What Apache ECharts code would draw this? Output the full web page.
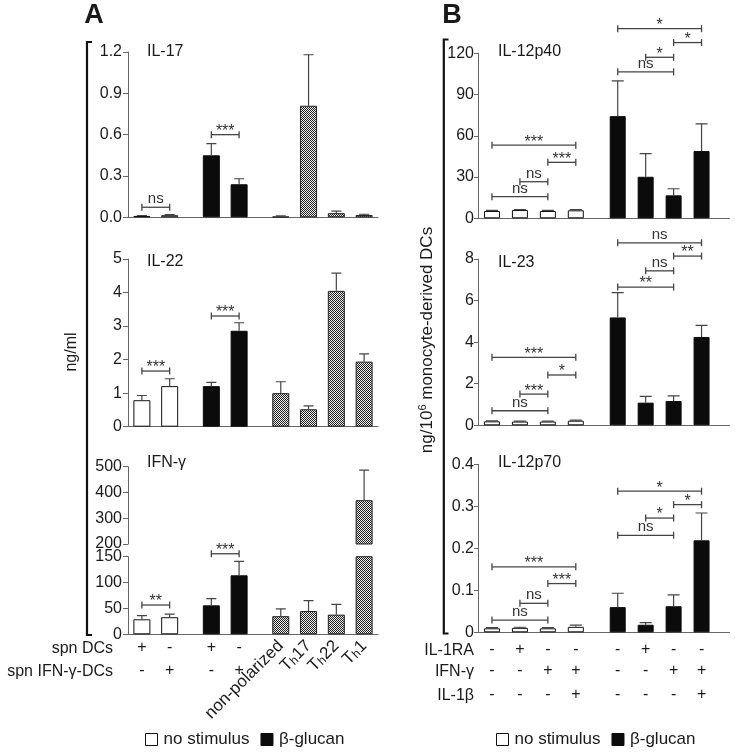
<!DOCTYPE html>
<html><head><meta charset="utf-8">
<script src="https://cdn.jsdelivr.net/npm/echarts@6/dist/echarts.min.js"></script>
<style>html,body{margin:0;padding:0;background:#fff}#c{width:735px;height:753px}</style>
</head><body><div id="c"></div>
<script>
// ---------- data ----------
const nSlots = 19;
const slotsA = [1, 3, 6, 8, 11, 13, 15, 17];
const slotsB = [1, 3, 5, 7, 10, 12, 14, 16];
const typesA = ['open', 'open', 'solid', 'solid', 'hatch', 'hatch', 'hatch', 'hatch'];
const typesB = ['open', 'open', 'open', 'open', 'solid', 'solid', 'solid', 'solid'];

// Panel A (ng/ml)
const il17 = [0.01, 0.015, 0.45, 0.24, 0.005, 0.81, 0.03, 0.017];
const il17Err = [0.013, 0.02, 0.535, 0.28, 0.01, 1.18, 0.045, 0.022];
const il22 = [0.79, 1.21, 1.21, 2.86, 1.0, 0.52, 4.05, 1.94];
const il22Err = [0.93, 1.43, 1.32, 3.1, 1.34, 0.62, 4.58, 2.17];
const ifng = [29, 33, 56, 114, 35, 45, 38, 370];
const ifngErr = [36, 39, 69, 141, 49, 65, 58, 487];

// Panel B (ng/10^6 monocyte-derived DCs)
const p40 = [5.3, 6.0, 5.3, 5.8, 74.3, 30.2, 16.7, 48.9];
const p40Err = [5.8, 6.4, 5.8, 6.3, 100, 47, 21.5, 68.7];
const il23 = [0.19, 0.18, 0.18, 0.22, 5.19, 1.09, 1.17, 4.25];
const il23Err = [0.21, 0.2, 0.2, 0.25, 6.38, 1.39, 1.42, 4.81];
const p70 = [0.0095, 0.0105, 0.0095, 0.013, 0.060, 0.018, 0.062, 0.219];
const p70Err = [0.011, 0.012, 0.011, 0.017, 0.093, 0.023, 0.089, 0.284];

// significance brackets: [fromBar, toBar, yValue, label]
const il17Sig = [[0, 1, 0.073, 'ns'], [2, 3, 0.6, '***']];
const il22Sig = [[0, 1, 1.66, '***'], [2, 3, 3.3, '***']];
const ifngSig = [[0, 1, 56.6, '**'], [2, 3, 155.7, '***']];
const p40Sig = [[0, 3, 53.2, '***'], [2, 3, 40.7, '***'], [1, 2, 26.6, 'ns'], [0, 2, 15.7, 'ns'],
                [4, 7, 137.9, '*'], [6, 7, 127.8, '*'], [5, 6, 117.1, '*'], [4, 6, 106.5, 'ns']];
const il23Sig = [[0, 3, 3.27, '***'], [2, 3, 2.42, '*'], [1, 2, 1.5, '***'], [0, 2, 0.70, 'ns'],
                 [4, 7, 8.78, 'ns'], [6, 7, 8.14, '**'], [5, 6, 7.43, 'ns'], [4, 6, 6.65, '**']];
const p70Sig = [[0, 3, 0.156, '***'], [2, 3, 0.116, '***'], [1, 2, 0.069, 'ns'], [0, 2, 0.029, 'ns'],
                [4, 7, 0.336, '*'], [6, 7, 0.304, '*'], [5, 6, 0.272, '*'], [4, 6, 0.231, 'ns']];

// x labels
const rowSpnDCs = ['+', '-', '+', '-', '', '', '', ''];
const rowSpnIFN = ['-', '+', '-', '+', '', '', '', ''];
const polarNames = ['', '', '', '', 'non-polarized', 'T{h|h}17', 'T{h|h}22', 'T{h|h}1'];
const rowIL1RA = ['-', '+', '-', '-', '-', '+', '-', '-'];
const rowIFN = ['-', '-', '+', '+', '-', '-', '+', '+'];
const rowIL1b = ['-', '-', '-', '+', '-', '-', '-', '+'];
const rowNamesA = ['spn DCs', 'spn IFN-\u03b3-DCs'];
const rowNamesB = ['IL-1RA', 'IFN-\u03b3', 'IL-1\u03b2'];
const titlesA = ['IL-17', 'IL-22', 'IFN-\u03b3'];
const titlesB = ['IL-12p40', 'IL-23', 'IL-12p70'];
const legendNames = ['no stimulus', '\u03b2-glucan'];

// ---------- style ----------
const FONT = "'Liberation Sans', Arial, Helvetica, sans-serif";
const TXT = '#1a1a1a';
const AX = '#666';
function hatchCanvas() {
  const c = document.createElement('canvas'); c.width = 4; c.height = 4;
  const g = c.getContext('2d'); g.fillStyle = '#f2f2f2'; g.fillRect(0, 0, 4, 4);
  g.fillStyle = '#1e1e1e';
  for (let y = 0; y < 4; y++) for (let x = 0; x < 4; x++) if ((x + y) % 2 === 0) g.fillRect(x, y, 1, 1);
  return c;
}
const hatchPat = { image: hatchCanvas(), repeat: 'repeat' };
const typeStyle = {
  open: { name: legendNames[0], itemStyle: { color: '#fff', borderColor: '#111', borderWidth: 1 } },
  solid: { name: legendNames[1], itemStyle: { color: '#0b0b0b', borderColor: '#0b0b0b', borderWidth: 1 } },
  hatch: { name: 'polarized', itemStyle: { color: hatchPat, borderColor: '#222', borderWidth: 1 } }
};

const cats = Array.from({ length: nSlots }, (_, i) => String(i));
function bySlot(slots, arr) { const m = {}; slots.forEach((s, i) => { m[s] = arr[i]; }); return m; }

const grids = [
  { left: 128, width: 250, top: 52, height: 165.3 },
  { left: 128, width: 250, top: 259, height: 167.7 },
  { left: 128, width: 250, top: 466.7, height: 77.3 },
  { left: 128, width: 250, top: 556.7, height: 77.6 },
  { left: 478, width: 251.5, top: 53.3, height: 165 },
  { left: 478, width: 251.5, top: 259, height: 166.3 },
  { left: 478, width: 251.5, top: 464.3, height: 168 }
];

function xAx(gridIndex, opts) {
  const o = {
    type: 'category', gridIndex, data: cats, boundaryGap: false, position: 'bottom',
    axisLine: { show: true, lineStyle: { color: AX, width: 1 } },
    axisTick: { show: false }, splitLine: { show: false },
    axisLabel: { show: false }
  };
  return Object.assign(o, opts || {});
}
function rowLabelAxis(gridIndex, slots, arr, offset, margin) {
  const m = bySlot(slots, arr);
  return xAx(gridIndex, {
    offset, axisLine: { show: offset === 0, lineStyle: { color: AX } },
    axisLabel: { show: true, interval: 0, margin, color: TXT, fontSize: 16, fontFamily: FONT,
      formatter: (v, i) => (m[i] !== undefined ? m[i] : '') }
  });
}
function yAx(gridIndex, min, max, interval, fmt, margin, tickLen) {
  return {
    type: 'value', gridIndex, min, max, interval,
    axisLine: { show: true, lineStyle: { color: AX, width: 1 } },
    axisTick: { show: true, length: tickLen, lineStyle: { color: AX } },
    splitLine: { show: false },
    axisLabel: { color: TXT, fontSize: 16, fontFamily: FONT, margin, formatter: fmt }
  };
}

const xAxis = [
  xAx(0), xAx(1), xAx(2, { axisLine: { show: false } }),
  rowLabelAxis(3, slotsA, rowSpnDCs, 0, 5),
  rowLabelAxis(3, slotsA, rowSpnIFN, 23, 5),
  (function () {
    const m = bySlot(slotsA, polarNames);
    return xAx(3, { axisLine: { show: false }, axisLabel: {
      show: true, interval: 0, rotate: 45, margin: 9, color: TXT, fontSize: 17, fontFamily: FONT,
      formatter: (v, i) => (m[i] || ''),
      rich: { h: { fontSize: 12, fontFamily: FONT, color: TXT, padding: [5, 0, 0, 0] } } } });
  })(),
  xAx(4), xAx(5),
  rowLabelAxis(6, slotsB, rowIL1RA, 0, 9),
  rowLabelAxis(6, slotsB, rowIFN, 21, 9),
  rowLabelAxis(6, slotsB, rowIL1b, 45, 9)
];
const f1 = v => v.toFixed(1);
const fInt = v => String(v);
const yAxis = [
  yAx(0, 0, 1.2, 0.3, f1, 6, 5),
  yAx(1, 0, 5, 1, fInt, 6, 5),
  yAx(2, 200, 500, 100, fInt, 6, 5),
  yAx(3, 0, 150, 50, fInt, 6, 5),
  yAx(4, 0, 120, 30, fInt, 4, 4),
  yAx(5, 0, 8, 2, fInt, 4, 4),
  yAx(6, 0, 0.4, 0.1, v => (v === 0 ? '0' : v.toFixed(1)), 4, 4)
];

const series = [];
function addPanel(xIdx, yIdx, slots, types, vals, errs, sig, barW, capW) {
  ['open', 'solid', 'hatch'].forEach(t => {
    const idx = types.map((tt, i) => (tt === t ? i : -1)).filter(i => i >= 0);
    if (!idx.length) return;
    series.push({
      type: 'bar', name: typeStyle[t].name, xAxisIndex: xIdx, yAxisIndex: yIdx,
      barWidth: barW, barGap: '-100%', clip: true, silent: true,
      itemStyle: typeStyle[t].itemStyle,
      data: idx.map(i => [slots[i], vals[i]])
    });
  });
  series.push({
    type: 'custom', xAxisIndex: xIdx, yAxisIndex: yIdx, clip: true, silent: true, z: 3,
    encode: { x: 0, y: [1, 2] },
    data: vals.map((v, i) => [slots[i], v, errs[i]]),
    renderItem: (params, api) => {
      const a = api.coord([api.value(0), api.value(1)]);
      const b = api.coord([api.value(0), api.value(2)]);
      const st = { stroke: '#444', lineWidth: 1.2 };
      return { type: 'group', children: [
        { type: 'line', shape: { x1: a[0], y1: a[1], x2: b[0], y2: b[1] }, style: st },
        { type: 'line', shape: { x1: b[0] - capW / 2, y1: b[1], x2: b[0] + capW / 2, y2: b[1] }, style: st }
      ] };
    }
  });
  if (sig && sig.length) {
    const labels = sig.map(s => s[3]);
    series.push({
      type: 'custom', xAxisIndex: xIdx, yAxisIndex: yIdx, clip: false, silent: true, z: 4,
      encode: { x: [0, 1], y: 2 },
      data: sig.map(s => [slots[s[0]], slots[s[1]], s[2]]),
      renderItem: (params, api) => {
        const a = api.coord([api.value(0), api.value(2)]);
        const b = api.coord([api.value(1), api.value(2)]);
        const lab = labels[params.dataIndex];
        const star = lab.indexOf('*') >= 0;
        const st = { stroke: '#444', lineWidth: 1.3 };
        const h = 3.5;
        return { type: 'group', children: [
          { type: 'line', shape: { x1: a[0], y1: a[1], x2: b[0], y2: b[1] }, style: st },
          { type: 'line', shape: { x1: a[0], y1: a[1] - h, x2: a[0], y2: a[1] + h }, style: st },
          { type: 'line', shape: { x1: b[0], y1: b[1] - h, x2: b[0], y2: b[1] + h }, style: st },
          { type: 'text', x: (a[0] + b[0]) / 2, y: star ? a[1] - 3 : a[1] - 8,
            style: { text: lab, fill: '#333', font: (star ? '16px ' : '15px ') + FONT,
              textAlign: 'center', textVerticalAlign: 'middle', align: 'center', verticalAlign: 'middle' } }
        ] };
      }
    });
  }
}
addPanel(0, 0, slotsA, typesA, il17, il17Err, il17Sig, 17, 10);
addPanel(1, 1, slotsA, typesA, il22, il22Err, il22Sig, 17, 10);
addPanel(2, 2, slotsA, typesA, ifng, ifngErr, null, 17, 10);
addPanel(3, 3, slotsA, typesA, ifng, ifngErr, ifngSig, 17, 10);
addPanel(6, 4, slotsB, typesB, p40, p40Err, p40Sig, 16, 12);
addPanel(7, 5, slotsB, typesB, il23, il23Err, il23Sig, 16, 12);
addPanel(8, 6, slotsB, typesB, p70, p70Err, p70Sig, 16, 12);

function txt(x, y, text, opts) {
  const o = Object.assign({ size: 16, align: 'left', v: 'middle', weight: 'normal', rot: 0 }, opts || {});
  return { type: 'text', x, y, rotation: o.rot, silent: true,
    style: { text, fill: TXT, font: o.weight + ' ' + o.size + 'px ' + FONT, rich: o.rich,
      textAlign: o.align, textVerticalAlign: o.v, align: o.align, verticalAlign: o.v } };
}
const graphic = [
  txt(94, 16, 'A', { size: 27, weight: 'bold', align: 'center' }),
  txt(452, 16, 'B', { size: 27, weight: 'bold', align: 'center' }),
  txt(147, 52, titlesA[0]), txt(147, 262, titlesA[1]), txt(147, 463, titlesA[2]),
  txt(498, 52, titlesB[0]), txt(498, 263, titlesB[1]), txt(498, 463, titlesB[2]),
  txt(113, 648.5, rowNamesA[0], { align: 'right' }),
  txt(113, 671.5, rowNamesA[1], { align: 'right' }),
  txt(474, 650.5, rowNamesB[0], { align: 'right' }),
  txt(474, 672, rowNamesB[1], { align: 'right' }),
  txt(474, 696, rowNamesB[2], { align: 'right' }),
  txt(72, 352, 'ng/ml', { align: 'center', rot: Math.PI / 2 }),
  txt(427, 340, 'ng/10{s|6} monocyte-derived DCs', { align: 'center', size: 17, rot: Math.PI / 2,
    rich: { s: { fontSize: 11, fontFamily: FONT, fill: TXT, color: TXT, padding: [0, 0, 9, 0] } } }),
  { type: 'polyline', silent: true, shape: { points: [[92, 42], [87, 42], [87, 635], [92, 635]] },
    style: { stroke: '#111', lineWidth: 2.2, fill: null } },
  { type: 'polyline', silent: true, shape: { points: [[448.5, 39.5], [443.8, 39.5], [443.8, 633.5], [448.5, 633.5]] },
    style: { stroke: '#111', lineWidth: 2.2, fill: null } }
];

const legendData = [
  { name: legendNames[0], itemStyle: { color: '#fff', borderColor: '#111', borderWidth: 1 } },
  { name: legendNames[1], itemStyle: { color: '#0b0b0b', borderColor: '#0b0b0b', borderWidth: 1 } }
];
const legendBase = { orient: 'horizontal', padding: 0, icon: 'rect', itemWidth: 12, itemHeight: 12,
  itemGap: 11, selectedMode: false, data: legendData,
  textStyle: { fontSize: 17, fontFamily: FONT, color: TXT, padding: [0, 0, 0, 1] } };

const chart = echarts.init(document.getElementById('c'), null, { renderer: 'canvas' });
chart.setOption({
  animation: false,
  backgroundColor: '#fff',
  textStyle: { fontFamily: FONT },
  grid: grids,
  xAxis, yAxis, series, graphic,
  legend: [Object.assign({ left: 145, top: 731 }, legendBase), Object.assign({ left: 496, top: 731 }, legendBase)]
});
</script></body></html>
